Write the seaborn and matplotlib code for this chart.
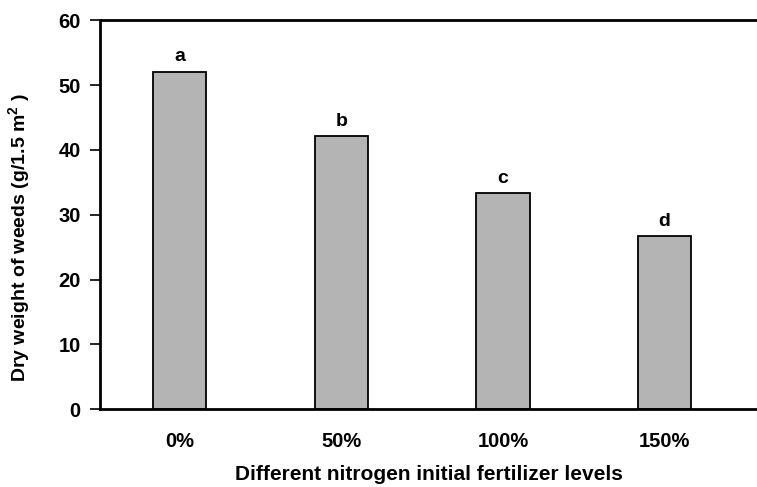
import matplotlib
matplotlib.use("Agg")
import matplotlib.pyplot as plt
import seaborn as sns
import pandas as pd

levels = ["0%", "50%", "100%", "150%"]
dry_weight = [52.1, 42.1, 33.3, 26.7]
letters = ["a", "b", "c", "d"]
yticks = [0, 10, 20, 30, 40, 50, 60]

sns.set_style("white")
plt.rcParams["font.family"] = ["Liberation Sans", "DejaVu Sans"]
plt.rcParams["font.weight"] = "bold"
plt.rcParams["text.color"] = "black"
plt.rcParams["axes.labelcolor"] = "black"
plt.rcParams["xtick.color"] = "black"
plt.rcParams["ytick.color"] = "black"
plt.rcParams["mathtext.fontset"] = "custom"
plt.rcParams["mathtext.rm"] = "Liberation Sans:bold"
plt.rcParams["mathtext.default"] = "rm"

df = pd.DataFrame({"level": levels, "weight": dry_weight})

fig = plt.figure(figsize=(7.57, 4.87), dpi=100)
ax = fig.add_axes([100 / 757, 1 - 409.3 / 487, 1 - 100 / 757 + 0.01, (409.3 - 20.3) / 487])

sns.barplot(data=df, x="level", y="weight", order=levels, color="#b4b4b4",
            saturation=1, width=0.33, edgecolor="black", linewidth=1.3, ax=ax)

for i, (v, t) in enumerate(zip(dry_weight, letters)):
    ax.annotate(t, (i, v), xytext=(0, 4.5), textcoords="offset points",
                ha="center", va="bottom", fontsize=14, fontweight="bold", color="black")

ax.set_ylim(0, 60)
ax.set_xlim(-0.494, 3.62)
ax.set_yticks(yticks)
ax.set_yticklabels([str(t) for t in yticks], fontsize=14.5, fontweight="bold")
ax.tick_params(axis="y", direction="out", length=7, width=1.2, left=True, pad=7)
ax.tick_params(axis="x", length=0, pad=16, labelsize=14.5)
for lab in ax.get_xticklabels():
    lab.set_fontweight("bold")

for s in ["top", "bottom", "left"]:
    ax.spines[s].set_visible(True)
    ax.spines[s].set_linewidth(2)
    ax.spines[s].set_color("black")
ax.spines["right"].set_visible(False)

ax.set_xlabel("Different nitrogen initial fertilizer levels", fontsize=15, fontweight="bold")
ax.xaxis.label.set_va("center")
ax.xaxis.set_label_coords((425 - 100) / 657, -(474 - 409.3) / 389)
ax.set_ylabel("Dry weight of weeds (g/1.5 m$^{2}$ )", fontsize=14, fontweight="bold")
ax.yaxis.label.set_va("center")
ax.yaxis.set_label_coords((20 - 100) / 657, (409.3 - 238) / 389)

fig.savefig("out.png", dpi=100)
